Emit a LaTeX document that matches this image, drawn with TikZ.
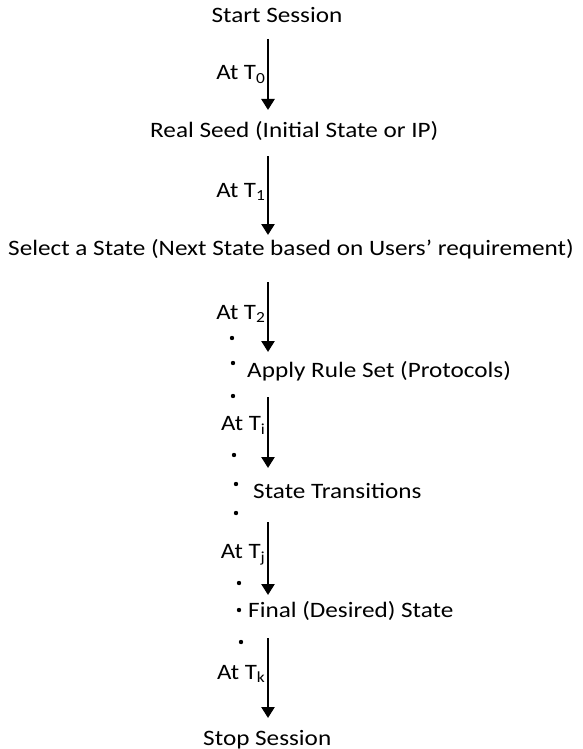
\documentclass[tikz,border=0pt]{standalone}
\usepackage{fontspec}
\setmainfont{Carlito}
\usetikzlibrary{arrows.meta}
\tikzset{
  stage/.style={font=\fontsize{22}{26}\selectfont, inner sep=0pt, anchor=base west, xscale=1.145},
  tlabel/.style={font=\fontsize{22}{26}\selectfont, inner sep=0pt, anchor=east, xscale=1.13, xshift=-1pt},
  flow/.style={line width=2.5pt, -{Triangle[width=13pt,length=11pt]}},
}

\begin{document}
\begin{tikzpicture}[x=1pt, y=-1pt]
        \useasboundingbox (0,0) rectangle (582,749);
        % stages of the session
        \node[stage, anchor=base] (start) at (277,23) {Start Session};
        \node[stage] (seed) at (150,138) {Real Seed (Initial State or IP)};
        \node[stage] (select) at (8,255) {Select a State (Next State based on Users’ requirement)};
        \node[stage] (rules) at (247,377) {Apply Rule Set (Protocols)};
        \node[stage] (trans) at (253,498) {State Transitions};
        \node[stage] (final) at (248,617) {Final (Desired) State};
        \node[stage] (stop) at (203,745) {Stop Session};
        % arrow ends
        \coordinate (a0) at (268,39);  \coordinate (b0) at (268,110);
        \coordinate (a1) at (268,156); \coordinate (b1) at (268,235);
        \coordinate (a2) at (268,282); \coordinate (b2) at (268,352);
        \coordinate (ai) at (268,397); \coordinate (bi) at (268,468);
        \coordinate (aj) at (268,522); \coordinate (bj) at (268,595);
        \coordinate (ak) at (268,638); \coordinate (bk) at (268,718);
        % time steps
        \draw[flow] (a0) -- (b0) node[tlabel, pos=0.5] (t0) {At T\textsubscript{0}};
        \draw[flow] (a1) -- (b1) node[tlabel, pos=0.46] (t1) {At T\textsubscript{1}};
        \draw[flow] (a2) -- (b2) node[tlabel, pos=0.45] (t2) {At T\textsubscript{2}};
        \draw[flow] (ai) -- (bi) node[tlabel, pos=0.4] (ti) {At T\textsubscript{i}};
        \draw[flow] (aj) -- (bj) node[tlabel, pos=0.45] (tj) {At T\textsubscript{j}};
        \draw[flow] (ak) -- (bk) node[tlabel, pos=0.45] (tk) {At T\textsubscript{k}};
        % dots
        \fill (232,338) circle (2.2);
        \fill (233,363) circle (2.2);
        \fill (233,396) circle (2.2);
        \fill (234,455) circle (2.2);
        \fill (236,484) circle (2.2);
        \fill (236,513) circle (2.2);
        \fill (239,583) circle (2.2);
        \fill (239,610) circle (2.2);
        \fill (241,642) circle (2.2);
      \end{tikzpicture}
\end{document}
